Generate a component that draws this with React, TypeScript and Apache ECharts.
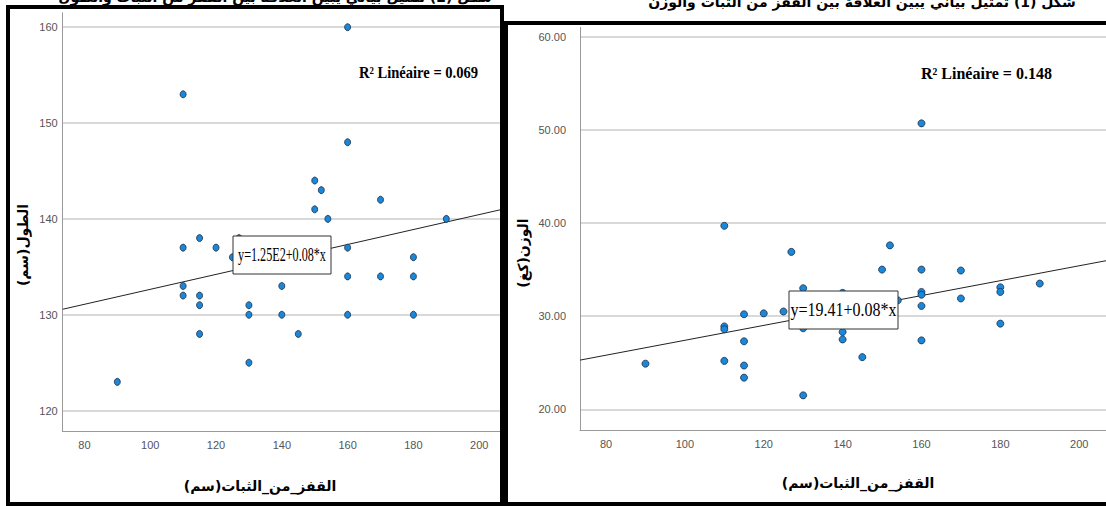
import React, { useEffect, useRef } from "react";
import * as echarts from "echarts";

// ---- tick labels ----
const xTicks = [80, 100, 120, 140, 160, 180, 200];
const heightTicks = [120, 130, 140, 150, 160];
const weightTicks = [20, 30, 40, 50, 60];

// ---- left chart: jump (cm) vs height (cm) ----
const jumpForHeight = [90, 110, 110, 110, 110, 115, 115, 115, 115, 120, 125, 127, 130, 130, 130, 140, 140, 145, 150, 152, 150, 154, 160, 160, 160, 160, 160, 170, 170, 180, 180, 180, 190];
const heightValues = [123, 153, 137, 133, 132, 138, 132, 131, 128, 137, 136, 138, 131, 130, 125, 133, 130, 128, 144, 143, 141, 140, 160, 148, 137, 134, 130, 142, 134, 136, 134, 130, 140];

// ---- right chart: jump (cm) vs weight (kg) ----
const jumpForWeight = [90, 110, 110, 110, 110, 115, 115, 115, 115, 120, 125, 127, 130, 130, 130, 140, 140, 140, 145, 150, 152, 154, 160, 160, 160, 160, 160, 160, 170, 170, 180, 180, 180, 190];
const weightValues = [24.9, 39.7, 28.9, 28.6, 25.2, 30.2, 27.3, 24.7, 23.4, 30.3, 30.5, 36.9, 33.0, 28.7, 21.5, 32.5, 28.3, 27.5, 25.6, 35.0, 37.6, 31.7, 50.7, 35.0, 32.6, 32.3, 31.1, 27.4, 34.9, 31.9, 33.1, 32.6, 29.2, 33.5];

// ---- fitted lines (from the chart's labels) ----
const heightFit = { intercept: 124.85, slope: 0.078 };
const weightFit = { intercept: 19.41, slope: 0.08 };
const heightEquation = "y=1.25E2+0.08*x";
const weightEquation = "y=19.41+0.08*x";
const heightR2 = "R² Linéaire = 0.069";
const weightR2 = "R² Linéaire = 0.148";

const xTitle = "القفز_من_الثبات(سم)";
const heightTitle = "الطول(سم)";
const weightTitle = "الوزن(كغ)";
const leftHeading = "شكل (2) تمثيل بياني يبين العلاقة بين القفز من الثبات والطول";
const rightHeading = "شكل (1) تمثيل بياني يبين العلاقة بين القفز من الثبات والوزن";

const X_MIN = 73.4;
const X_MAX = 206.8;

const zip = (a: number[], b: number[]) => a.map((v, i) => [v, b[i]]);
const fitLine = (f: { intercept: number; slope: number }) => [
  [X_MIN, f.intercept + f.slope * X_MIN],
  [X_MAX, f.intercept + f.slope * X_MAX],
];

export default function App() {
  const ref = useRef<HTMLDivElement>(null);
  useEffect(() => {
    if (!ref.current) return;
    const chart = echarts.init(ref.current, null, { renderer: "svg" });
    const labelStyle = { color: "#555", fontSize: 11, fontFamily: "Liberation Sans Narrow, Liberation Sans, Arial" };
    const arabicFont = "bold 14px 'DejaVu Sans'";
    const axisLine = { show: true, onZero: false, lineStyle: { color: "#9a9a9a", width: 1 } };
    const splitLine = { show: true, lineStyle: { color: "#cccccc", width: 1.5 } };

    const option: any = {
      animation: false,
      backgroundColor: "#ffffff",
      grid: [
        { left: 62.7, top: 12.8, width: 438.9, height: 418.9 },
        { left: 580, top: 27.4, width: 526.9, height: 402.6 },
      ],
      xAxis: [0, 1].map((i) => ({
        gridIndex: i,
        type: "value",
        min: X_MIN,
        max: X_MAX,
        axisLine,
        axisTick: { show: false, customValues: xTicks },
        axisLabel: { ...labelStyle, customValues: xTicks, margin: 8 },
        splitLine: { show: false },
      })),
      yAxis: [
        {
          gridIndex: 0,
          type: "value",
          min: 117.8,
          max: 161.5,
          axisLine,
          axisTick: { show: false, customValues: heightTicks },
          axisLabel: { ...labelStyle, customValues: heightTicks, margin: 5 },
          splitLine,
        },
        {
          gridIndex: 1,
          type: "value",
          min: 17.78,
          max: 61,
          axisLine,
          axisTick: { show: false, customValues: weightTicks },
          axisLabel: { ...labelStyle, customValues: weightTicks, margin: 14, formatter: (v: number) => v.toFixed(2) },
          splitLine,
        },
      ],
      series: [
        {
          type: "line",
          xAxisIndex: 0,
          yAxisIndex: 0,
          data: fitLine(heightFit),
          showSymbol: false,
          lineStyle: { color: "#222", width: 1 },
          z: 2,
        },
        {
          type: "scatter",
          xAxisIndex: 0,
          yAxisIndex: 0,
          data: zip(jumpForHeight, heightValues),
          symbol: "circle",
          symbolSize: [6, 7],
          itemStyle: { color: "#1a87d8", borderColor: "#1b2f4a", borderWidth: 0.8, opacity: 1 },
          z: 3,
        },
        {
          type: "line",
          xAxisIndex: 1,
          yAxisIndex: 1,
          data: fitLine(weightFit),
          showSymbol: false,
          lineStyle: { color: "#222", width: 1 },
          z: 2,
        },
        {
          type: "scatter",
          xAxisIndex: 1,
          yAxisIndex: 1,
          data: zip(jumpForWeight, weightValues),
          symbol: "circle",
          symbolSize: [7, 7],
          itemStyle: { color: "#1a87d8", borderColor: "#1b2f4a", borderWidth: 0.8, opacity: 1 },
          z: 3,
        },
      ],
      graphic: [
        // axis titles
        {
          type: "text", z: 40, x: 260, y: 486,
          style: { text: xTitle, fill: "#000", font: arabicFont, textAlign: "center", textVerticalAlign: "middle" },
        },
        {
          type: "text", z: 40, x: 858, y: 483,
          style: { text: xTitle, fill: "#000", font: arabicFont, textAlign: "center", textVerticalAlign: "middle" },
        },
        {
          type: "text", z: 40, x: 23, y: 245, rotation: Math.PI / 2,
          style: { text: heightTitle, fill: "#000", font: arabicFont, textAlign: "center", textVerticalAlign: "middle" },
        },
        {
          type: "text", z: 40, x: 523, y: 253, rotation: Math.PI / 2,
          style: { text: weightTitle, fill: "#000", font: arabicFont, textAlign: "center", textVerticalAlign: "middle" },
        },
        // equation boxes
        { type: "rect", z: 50, shape: { x: 233, y: 236, width: 98, height: 38 }, style: { fill: "#fff", stroke: "#333", lineWidth: 1 } },
        {
          type: "text", z: 51, x: 282, y: 255, scaleX: 0.675,
          style: { text: heightEquation, fill: "#000", font: "18px 'Liberation Serif'", textAlign: "center", textVerticalAlign: "middle" },
        },
        { type: "rect", z: 50, shape: { x: 789, y: 291, width: 109, height: 38 }, style: { fill: "#fff", stroke: "#333", lineWidth: 1 } },
        {
          type: "text", z: 51, x: 843.5, y: 310, scaleX: 0.89,
          style: { text: weightEquation, fill: "#000", font: "18px 'Liberation Serif'", textAlign: "center", textVerticalAlign: "middle" },
        },
        // R² labels
        {
          type: "text", z: 51, x: 359, y: 72, scaleX: 0.91,
          style: { text: heightR2, fill: "#000", font: "bold 16px 'Liberation Serif'", textAlign: "left", textVerticalAlign: "middle" },
        },
        {
          type: "text", z: 51, x: 921, y: 73, scaleX: 1.0,
          style: { text: weightR2, fill: "#000", font: "bold 16px 'Liberation Serif'", textAlign: "left", textVerticalAlign: "middle" },
        },
        // headings, clipped at the top of the page as in the source image
        {
          type: "text", z: 40, x: 275, y: 4,
          style: { text: leftHeading, fill: "#000", font: "bold 14px 'DejaVu Sans'", textAlign: "center", textVerticalAlign: "bottom" },
        },
        {
          type: "text", z: 40, x: 862, y: 9,
          style: { text: rightHeading, fill: "#000", font: "bold 14px 'DejaVu Sans'", textAlign: "center", textVerticalAlign: "bottom" },
        },
        // panel frames
        { type: "rect", z: 60, shape: { x: 8, y: 7, width: 494, height: 497 }, style: { fill: "none", stroke: "#000", lineWidth: 4 } },
        { type: "rect", z: 60, shape: { x: 506, y: 23, width: 640, height: 481 }, style: { fill: "none", stroke: "#000", lineWidth: 4 } },
      ],
    };
    chart.setOption(option);
    return () => chart.dispose();
  }, []);
  return (
    <div
      ref={ref}
      style={{ position: "fixed", left: 0, top: 0, width: 1106, height: 506, background: "#fff" }}
    />
  );
}
